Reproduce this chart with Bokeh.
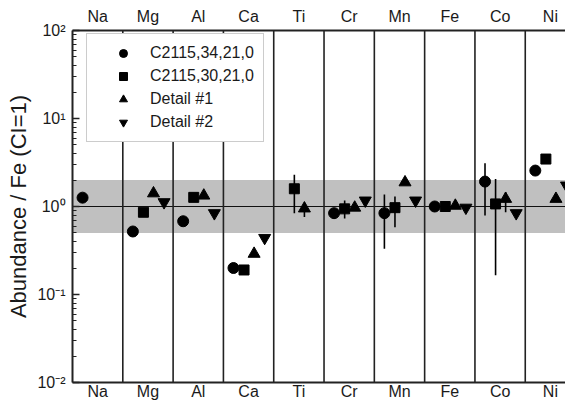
from bokeh.plotting import figure
from bokeh.models import (LinearAxis, FixedTicker, BoxAnnotation, Span, Legend,
                          LegendItem, Range1d)
from bokeh.embed import file_html
from bokeh.resources import INLINE

nan = float("nan")

# ---------------- data ----------------
elements = ["Na", "Mg", "Al", "Ca", "Ti", "Cr", "Mn", "Fe", "Co", "Ni"]
series_names = ["C2115,34,21,0", "C2115,30,21,0", "Detail #1", "Detail #2"]

c2115_34    = [1.26, 0.52, 0.68, 0.20, nan, 0.84, 0.84, 1.00, 1.92, 2.56]
c2115_34_lo = [nan, nan, nan, nan, nan, 0.72, 0.33, nan, 0.79, nan]
c2115_34_hi = [nan, nan, nan, nan, nan, 0.90, 1.37, nan, 3.10, nan]

c2115_30    = [nan, 0.86, 1.27, 0.19, 1.59, 0.94, 0.97, 1.00, 1.07, 3.46]
c2115_30_lo = [nan, nan, nan, nan, 0.84, 0.73, 0.58, nan, 0.166, nan]
c2115_30_hi = [nan, nan, nan, nan, 2.30, 1.17, 1.30, nan, 2.06, nan]

detail1     = [nan, 1.41, 1.33, 0.29, 0.95, 0.97, 1.88, 1.02, 1.22, 1.22]
detail1_lo  = [nan, nan, nan, nan, 0.76, nan, nan, nan, 0.86, nan]
detail1_hi  = [nan, nan, nan, nan, 1.10, nan, nan, nan, 1.45, nan]

detail2     = [nan, 1.12, 0.84, 0.44, nan, 1.17, 1.17, 0.97, 0.84, 1.73]
detail2_lo  = [nan] * 10
detail2_hi  = [nan] * 10

y_tick_values = [0.01, 0.1, 1, 10, 100]
y_tick_labels = ["10\u207b\u00b2", "10\u207b\u00b9", "10\u2070", "10\u00b9", "10\u00b2"]
band_low, band_high = 0.5, 2.0
reference_level = 1.0

# ---------------- styles ----------------
FONT = "Liberation Sans"
TXT = "#1a1a1a"
markers = ["circle", "square", "triangle", "inverted_triangle"]
sizes = [11, 10, 12, 12]
offsets = [0.2, 0.41, 0.61, 0.82]

n = len(elements)
centers = [i + 0.5 for i in range(n)]
p = figure(width=565, height=402, y_axis_type="log",
           x_range=Range1d(0, 9.8), y_range=Range1d(0.01, 100),
           output_backend="svg", toolbar_location=None,
           min_border_left=72, min_border_right=0, min_border_top=30,
           min_border_bottom=19)
p.outline_line_color = None
p.background_fill_color = "white"
p.border_fill_color = "white"
p.xgrid.visible = False
p.ygrid.visible = False


def style_x_axis(ax, standoff):
    ax.ticker = FixedTicker(ticks=centers)
    ax.major_label_overrides = {c: e for c, e in zip(centers, elements)}
    ax.major_tick_in = 0
    ax.major_tick_out = 0
    ax.minor_tick_in = 0
    ax.minor_tick_out = 0
    ax.axis_line_width = 2
    ax.axis_line_color = "#222222"
    ax.major_label_text_font = FONT
    ax.major_label_text_font_size = "16px"
    ax.major_label_text_color = TXT
    ax.major_label_standoff = standoff


# bottom axis
style_x_axis(p.xaxis[0], 0)

# top axis
top = LinearAxis()
style_x_axis(top, 6)
p.add_layout(top, "above")

# left log axis
ly = p.yaxis[0]
minor = [m * 10.0 ** e for e in range(-2, 2) for m in range(2, 10)]
ly.ticker = FixedTicker(ticks=y_tick_values, minor_ticks=minor)
ly.major_label_overrides = {v: l for v, l in zip(y_tick_values, y_tick_labels)}
ly.major_tick_in = 7
ly.major_tick_out = 0
ly.minor_tick_in = 4
ly.minor_tick_out = 0
ly.major_tick_line_width = 1.5
ly.axis_line_width = 2
ly.axis_line_color = "#222222"
ly.major_tick_line_color = "#222222"
ly.minor_tick_line_color = "#222222"
ly.major_label_text_font = FONT
ly.major_label_text_font_size = "16px"
ly.major_label_text_color = TXT
ly.major_label_standoff = 7
ly.axis_label = "Abundance / Fe (CI=1)"
ly.axis_label_text_font = FONT
ly.axis_label_text_font_style = "normal"
ly.axis_label_text_font_size = "22px"
ly.axis_label_text_color = TXT
ly.axis_label_standoff = 3

# grey band and reference line
p.add_layout(BoxAnnotation(bottom=band_low, top=band_high, fill_color="#c0c0c0",
                           fill_alpha=1, line_color=None, level="underlay"))
p.add_layout(Span(location=reference_level, dimension="width", line_color="#111111",
                  line_width=1.2, level="underlay"))

# vertical separators between elements
bounds = list(range(1, n))
p.segment(x0=bounds, x1=bounds, y0=[p.y_range.start] * len(bounds),
          y1=[p.y_range.end] * len(bounds), line_color="#222222", line_width=1.6)

# data
all_vals = [c2115_34, c2115_30, detail1, detail2]
all_lo = [c2115_34_lo, c2115_30_lo, detail1_lo, detail2_lo]
all_hi = [c2115_34_hi, c2115_30_hi, detail1_hi, detail2_hi]

items = []
for k in range(4):
    vals, lo, hi = all_vals[k], all_lo[k], all_hi[k]
    ex, elo, ehi = [], [], []
    for i in range(n):
        if lo[i] == lo[i] and hi[i] == hi[i]:
            ex.append(i + offsets[k]); elo.append(lo[i]); ehi.append(hi[i])
    if ex:
        p.segment(x0=ex, x1=ex, y0=elo, y1=ehi, line_color="black", line_width=1.6)
    xs = [i + offsets[k] for i in range(n) if vals[i] == vals[i]]
    ys = [vals[i] for i in range(n) if vals[i] == vals[i]]
    r = p.scatter(x=xs, y=ys, marker=markers[k], size=sizes[k],
                  fill_color="black", line_color="black")
    items.append(LegendItem(label=series_names[k], renderers=[r]))

legend = Legend(items=items, location=(14, 240))
legend.label_text_font = FONT
legend.label_text_font_size = "16px"
legend.label_text_color = TXT
legend.border_line_color = "#999999"
legend.border_line_width = 1
legend.background_fill_color = "white"
legend.background_fill_alpha = 1
legend.padding = 9
legend.spacing = 3
legend.glyph_height = 20
legend.glyph_width = 54
legend.label_standoff = 0
legend.label_height = 20
legend.margin = 0
p.add_layout(legend, "center")

open("out.html", "w").write(file_html(p, INLINE))
